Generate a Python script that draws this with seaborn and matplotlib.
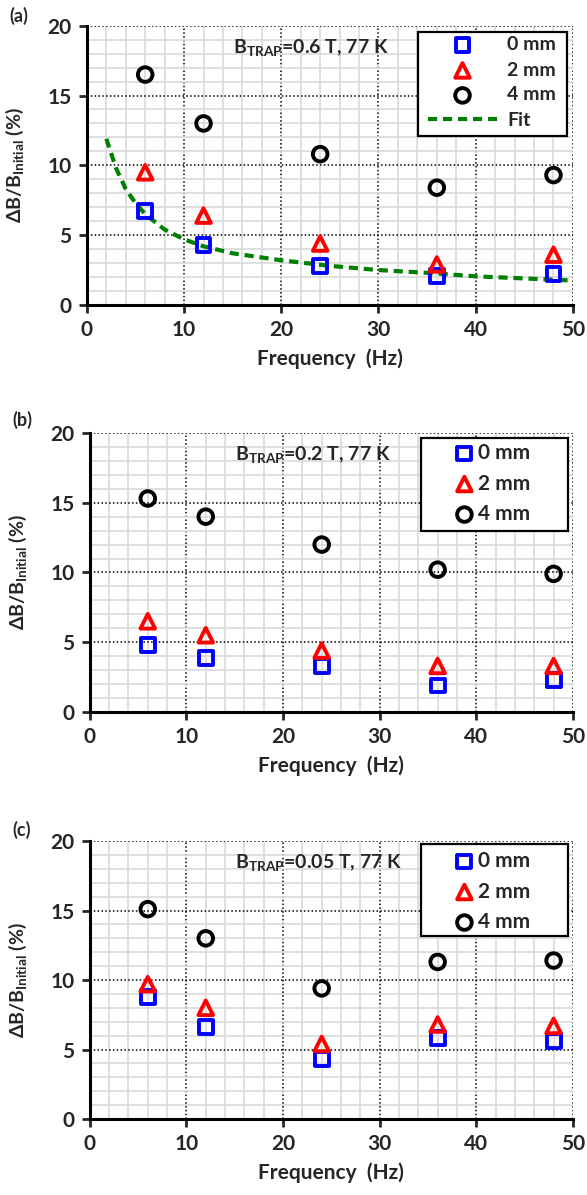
import numpy as np
import pandas as pd
import matplotlib
matplotlib.use("Agg")
import matplotlib.pyplot as plt
from matplotlib.patches import Rectangle
from matplotlib.ticker import MultipleLocator
import seaborn as sns

# frequencies (Hz)
freq = [6, 12, 24, 36, 48]

# panel (a) B_TRAP = 0.6 T
a_0mm = [6.7, 4.3, 2.8, 2.1, 2.2]
a_2mm = [9.5, 6.4, 4.4, 2.9, 3.6]
a_4mm = [16.5, 13.0, 10.8, 8.4, 9.3]
fit_freq = [2, 3, 4, 5, 6, 8, 10, 12, 15, 20, 25, 30, 35, 40, 45, 50]
fit_vals = [11.9, 9.8, 8.3, 7.3, 6.5, 5.4, 4.7, 4.2, 3.7, 3.2, 2.8, 2.5, 2.3, 2.05, 1.9, 1.75]

# panel (b) B_TRAP = 0.2 T
b_0mm = [4.8, 3.9, 3.3, 1.9, 2.3]
b_2mm = [6.5, 5.5, 4.4, 3.3, 3.3]
b_4mm = [15.3, 14.0, 12.0, 10.2, 9.9]

# panel (c) B_TRAP = 0.05 T
c_0mm = [8.8, 6.6, 4.3, 5.8, 5.6]
c_2mm = [9.7, 8.0, 5.4, 6.8, 6.7]
c_4mm = [15.1, 13.0, 9.4, 11.3, 11.4]

labels = ["0 mm", "2 mm", "4 mm"]
panels = [
    ("(a)", "0.6 T, 77 K", [a_0mm, a_2mm, a_4mm], True),
    ("(b)", "0.2 T, 77 K", [b_0mm, b_2mm, b_4mm], False),
    ("(c)", "0.05 T, 77 K", [c_0mm, c_2mm, c_4mm], False),
]

sns.set_style("white")
plt.rcParams["font.family"] = ["Lato", "DejaVu Sans"]
plt.rcParams["font.weight"] = "bold"
plt.rcParams["mathtext.fontset"] = "custom"
plt.rcParams["mathtext.rm"] = "Lato:bold"
plt.rcParams["mathtext.bf"] = "Lato:bold"

styles = [("s", "#0000ff", 10), ("^", "#ff0000", 10.5), ("o", "black", 10.5)]

W, H, DPI = 5.87, 11.95, 100
fig = plt.figure(figsize=(W, H), dpi=DPI)
HPX = H * DPI

# axes rect, legend box (axes fraction), legend font, handle length,
# handle left (px), text start (px), first row centre (px), row step (px), tag y
layout = [
    ([0.148, 0.7448, 0.828, 0.2337], (0.681, 0.605, 0.307, 0.372), 14, 3.55, 428, 507, 45, 25, 1.067),
    ([0.153, 0.4042, 0.823, 0.2335], (0.685, 0.649, 0.305, 0.333), 15, 1.0, 454, 478, 453, 30.5, 1.079),
    ([0.153, 0.0636, 0.823, 0.2326], (0.685, 0.658, 0.305, 0.331), 15, 1.0, 454, 478, 861, 30.5, 1.072),
]


def place_legend(ax, fs, hl, hx, tx, y0, step):
    # build the legend, then nudge it so rows and text match the reference spacing
    fpx = fs * DPI / 72.0
    pad, ls, ay = 0.3, 0.3, 0.97
    ax_x0 = ax.get_position().x0 * W * DPI
    ax_w = ax.get_position().width * W * DPI
    ax_y0 = ax.get_position().y0 * HPX
    ax_h = ax.get_position().height * HPX
    ax_frac_x = (hx - ax_x0) / ax_w
    for _ in range(3):
        leg = ax.legend(loc="upper left", bbox_to_anchor=(ax_frac_x, ay), frameon=False,
                        handlelength=hl, handletextpad=pad, labelspacing=ls,
                        borderpad=0, borderaxespad=0, fontsize=fs, scatterpoints=1)
        for t in leg.get_texts():
            t.set_fontweight("bold")
        fig.canvas.draw()
        r = fig.canvas.get_renderer()
        ext = [t.get_window_extent(r) for t in leg.get_texts()]
        xs = ext[0].x0
        cy = [HPX - (e.y0 + e.y1) / 2 for e in ext]
        meas_step = (cy[-1] - cy[0]) / (len(cy) - 1)
        pad += (tx - xs) / fpx
        ls += (step - meas_step) / fpx
        ay -= (y0 - cy[0]) / ax_h
    leg.set_zorder(7)
    return leg


for (tag, cond, series, has_fit), (rect, box, fs, hl, hx, tx, y0, step, tag_y) in zip(panels, layout):
    ax = fig.add_axes(rect)
    for vals, lab, (mk, col, ms) in zip(series, labels, styles):
        df = pd.DataFrame({"f": freq, "v": vals})
        sns.scatterplot(data=df, x="f", y="v", marker=mk, s=ms ** 2,
                        facecolor="none", edgecolor=col, linewidth=2.8,
                        label=lab, ax=ax, zorder=4)
    if has_fit:
        fdf = pd.DataFrame({"f": fit_freq, "v": fit_vals})
        sns.lineplot(data=fdf, x="f", y="v", color="#008000", lw=3,
                     linestyle=(0, (2.2, 1.4)), label="Fit", ax=ax, zorder=3)

    ax.set_xlim(0, 50)
    ax.set_ylim(0, 20)
    ax.xaxis.set_major_locator(MultipleLocator(10))
    ax.xaxis.set_minor_locator(MultipleLocator(2))
    ax.yaxis.set_major_locator(MultipleLocator(5))
    ax.yaxis.set_minor_locator(MultipleLocator(1))
    ax.grid(which="minor", color="#d9d9d9", lw=1.2, ls="-")
    ax.grid(which="major", color="black", lw=1.1, ls=(0, (1, 1.5)))
    ax.set_axisbelow(True)
    ax.tick_params(which="minor", length=0)
    ax.tick_params(which="major", direction="out", length=6, width=2,
                   labelsize=15, left=True, bottom=True, pad=5)
    for t in ax.get_xticklabels() + ax.get_yticklabels():
        t.set_fontweight("bold")
    for side in ["top", "right"]:
        ax.spines[side].set_visible(False)
    for side in ["left", "bottom"]:
        ax.spines[side].set_linewidth(2.2)
        ax.spines[side].set_color("black")

    ax.set_xlabel("Frequency  (Hz)", fontsize=15, fontweight="bold", labelpad=6)
    ax.set_ylabel(r"ΔB/B$_{\mathbf{Initial}}$ (%)", fontsize=14, fontweight="bold")
    ax.yaxis.set_label_coords(-0.125, 0.5)
    ax.text(15.0, 18.4, r"B$_{\mathbf{TRAP}}$=" + cond, fontsize=14, fontweight="bold",
            ha="left", va="center", zorder=5)
    ax.text(-0.16, tag_y, tag, transform=ax.transAxes, fontsize=13, fontweight="bold",
            ha="left", va="top")

    # legend box drawn separately, legend itself frameless
    ax.add_patch(Rectangle((box[0], box[1]), box[2], box[3], transform=ax.transAxes,
                           facecolor="white", edgecolor="black", lw=1.6, zorder=6,
                           clip_on=False))
    place_legend(ax, fs, hl, hx, tx, y0, step)

fig.savefig("out.png", dpi=DPI)
